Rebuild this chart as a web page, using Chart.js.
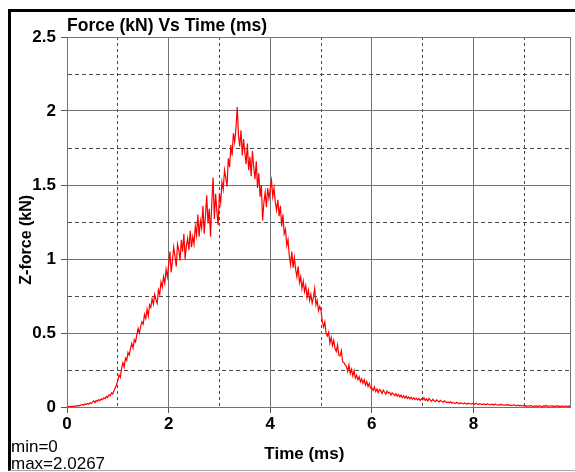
<!DOCTYPE html>
<html>
<head>
<meta charset="utf-8">
<title>Force (kN) Vs Time (ms)</title>
<script src="https://cdn.jsdelivr.net/npm/chart.js@4.4.1/dist/chart.umd.min.js"></script>
<style>
  html, body { margin: 0; padding: 0; background: #fff; }
  #wrap { position: relative; width: 575px; height: 472px; overflow: hidden; }
  #wrap canvas { position: absolute; left: 0; top: 0; }
  #frame {
    position: absolute; left: 8px; top: 9px; width: 567px; height: 462px;
    box-sizing: border-box; pointer-events: none;
    border-left: 3px solid #000; border-top: 3px solid #000; border-bottom: 1px solid #a8a8a8;
  }
</style>
</head>
<body>
<div id="wrap">
  <canvas id="forceChart" width="575" height="472"></canvas>
  <div id="frame"></div>
</div>
<script>
// sampling of the recorded signal (ms between samples) and where the time axis ends
const SAMPLE_MS = 0.025;
const TIME_MAX = 9.9;

// Z-force (kN), one value per sample
const forceRise = [
  0.000, 0.003, 0.001, 0.005, 0.002, 0.006, 0.004, 0.009, 0.006, 0.011, 0.008, 0.013, 0.017, 0.012, 0.020, 0.016, 0.024, 0.019, 0.028, 0.023,
  0.033, 0.041, 0.030, 0.045, 0.038, 0.050, 0.043, 0.055, 0.049, 0.062, 0.056, 0.071, 0.064, 0.082, 0.076, 0.095, 0.088, 0.112, 0.128, 0.150,
  0.180, 0.215, 0.200, 0.262, 0.300, 0.270, 0.330, 0.315, 0.368, 0.350, 0.395, 0.430, 0.398, 0.455, 0.440, 0.490, 0.530, 0.500, 0.545, 0.575,
  0.560, 0.625, 0.598, 0.660, 0.615, 0.690, 0.672, 0.730, 0.695, 0.760, 0.725, 0.700, 0.790, 0.760, 0.845, 0.810, 0.880, 0.835, 0.930, 0.880,
];
const forcePeak = [
  0.960, 1.050, 0.910, 0.990, 1.080, 1.020, 0.950, 1.100, 1.060, 0.990, 1.130, 1.050, 1.170, 1.000, 1.090, 1.140, 1.060, 1.190, 1.080, 1.150,
  1.100, 1.220, 1.160, 1.300, 1.150, 1.260, 1.210, 1.360, 1.170, 1.290, 1.430, 1.240, 1.340, 1.150, 1.380, 1.550, 1.270, 1.440, 1.320, 1.230,
  1.440, 1.380, 1.520, 1.470, 1.600, 1.550, 1.490, 1.680, 1.620, 1.770, 1.700, 1.850, 1.790, 1.880, 2.0267, 1.840, 1.760, 1.870, 1.700, 1.810,
  1.720, 1.640, 1.780, 1.600, 1.690, 1.560, 1.730, 1.620, 1.540, 1.660, 1.480, 1.580, 1.420, 1.500, 1.260, 1.380, 1.450, 1.350, 1.480, 1.410,
];
const forceFall = [
  1.470, 1.530, 1.420, 1.480, 1.380, 1.330, 1.400, 1.290, 1.360, 1.220, 1.300, 1.170, 1.200, 1.090, 1.130, 1.020, 0.960, 1.050, 0.940, 1.010,
  0.930, 0.880, 0.950, 0.840, 0.880, 0.800, 0.850, 0.780, 0.820, 0.740, 0.790, 0.720, 0.760, 0.700, 0.740, 0.800, 0.690, 0.720, 0.650, 0.680,
  0.650, 0.580, 0.540, 0.575, 0.495, 0.480, 0.505, 0.430, 0.470, 0.415, 0.450, 0.395, 0.375, 0.420, 0.350, 0.345, 0.380, 0.305, 0.300, 0.285,
  0.275, 0.240, 0.285, 0.225, 0.255, 0.210, 0.245, 0.195, 0.215, 0.185, 0.205, 0.170, 0.190, 0.160, 0.185, 0.148, 0.172, 0.138, 0.160, 0.128,
];
const forceTail = [
  0.128, 0.112, 0.135, 0.104, 0.122, 0.098, 0.118, 0.110, 0.092, 0.114, 0.100, 0.086, 0.108, 0.094, 0.099, 0.080, 0.095, 0.088, 0.076, 0.090,
  0.072, 0.085, 0.068, 0.080, 0.064, 0.075, 0.060, 0.073, 0.058, 0.068, 0.055, 0.066, 0.052, 0.063, 0.050, 0.060, 0.048, 0.058, 0.044, 0.055,
  0.048, 0.062, 0.044, 0.055, 0.040, 0.058, 0.046, 0.038, 0.052, 0.042, 0.036, 0.048, 0.040, 0.034, 0.045, 0.038, 0.032, 0.042, 0.035, 0.030,
  0.034, 0.028, 0.036, 0.025, 0.030, 0.027, 0.024, 0.032, 0.026, 0.022, 0.029, 0.024, 0.021, 0.027, 0.023, 0.020, 0.026, 0.022, 0.019, 0.024,
  0.022, 0.018, 0.025, 0.020, 0.017, 0.023, 0.019, 0.016, 0.021, 0.018, 0.015, 0.022, 0.017, 0.014, 0.019, 0.016, 0.013, 0.020, 0.015, 0.012,
  0.016, 0.013, 0.018, 0.012, 0.015, 0.011, 0.014, 0.017, 0.010, 0.013, 0.009, 0.012, 0.015, 0.010, 0.008, 0.012, 0.009, 0.011, 0.007, 0.010,
  0.006, 0.009, 0.005, 0.008, 0.004, 0.010, 0.006, 0.003, 0.008, 0.005, 0.007, 0.004, 0.009, 0.005, 0.003, 0.007, 0.005, 0.012, 0.004, 0.006,
  0.005, 0.008, 0.004, 0.007, 0.003, 0.006, 0.009, 0.004, 0.006, 0.003, 0.007, 0.005, 0.004, 0.008, 0.003, 0.006, 0.004,
];

// grid positions and the ones that carry a label
const timeTicks = [0, 1, 2, 3, 4, 5, 6, 7, 8, 9];
const timeLabels = ["0", "2", "4", "6", "8"];
const forceTicks = [0, 0.25, 0.5, 0.75, 1, 1.25, 1.5, 1.75, 2, 2.25, 2.5];
const forceLabels = ["0", "0.5", "1", "1.5", "2", "2.5"];

const zForce = [...forceRise, ...forcePeak, ...forceFall, ...forceTail];
const points = zForce.map((f, i) => ({ x: i * SAMPLE_MS, y: f }));
const forceMin = Math.min(...zForce);
const forceMax = Math.max(...zForce);

const FONT = "'Liberation Sans', Arial, sans-serif";
const MAJOR = "#737373";
const MINOR = "#4a4a4a";

// "major" = labelled tick, "minor" = dashed line, "edge" = closing border
function tickKind(tick, labels, ticks) {
  if (!tick) return "edge";
  if (labels.includes(String(tick.value))) return "major";
  return ticks.includes(tick.value) ? "minor" : "edge";
}
const xKind = (c) => tickKind(c.tick, timeLabels, timeTicks);
const yKind = (c) => tickKind(c.tick, forceLabels, forceTicks);

// min / max readout in the bottom left corner
const statsText = {
  id: "statsText",
  afterDraw(chart) {
    const ctx = chart.ctx;
    ctx.save();
    ctx.font = "17px " + FONT;
    ctx.fillStyle = "#000";
    ctx.textAlign = "left";
    ctx.textBaseline = "alphabetic";
    ctx.fillText("min=" + forceMin, 11, 452);
    ctx.fillText("max=" + forceMax, 11, 469);
    ctx.restore();
  },
};

new Chart(document.getElementById("forceChart"), {
  type: "line",
  data: {
    datasets: [
      {
        label: "Z-force",
        data: points,
        borderColor: "#ff0000",
        borderWidth: 1.2,
        pointRadius: 0,
        tension: 0,
        fill: false,
      },
    ],
  },
  options: {
    responsive: false,
    animation: false,
    events: [],
    layout: { padding: { top: 0, left: 0, right: 5, bottom: 0 } },
    scales: {
      x: {
        type: "linear",
        min: 0,
        max: TIME_MAX,
        afterBuildTicks: (scale) => {
          scale.ticks = [...timeTicks, TIME_MAX].map((v) => ({ value: v }));
        },
        afterFit: (scale) => {
          scale.height = 65;
        },
        ticks: {
          autoSkip: false,
          maxRotation: 0,
          padding: 1,
          color: "#000",
          font: { family: FONT, size: 17, weight: "bold" },
          callback: (v) => (timeLabels.includes(String(v)) ? String(v) : ""),
        },
        grid: {
          color: (c) => (xKind(c) === "minor" ? MINOR : MAJOR),
          lineWidth: 1,
          tickLength: 6,
          tickColor: (c) => (xKind(c) === "major" ? "#555" : "rgba(0,0,0,0)"),
        },
        border: {
          color: MAJOR,
          dash: (c) => (c.tick && xKind(c) === "minor" ? [3, 3] : []),
        },
        title: {
          display: true,
          text: "Time (ms)      ",
          color: "#000",
          font: { family: FONT, size: 17, weight: "bold" },
          padding: { top: 0, bottom: 7 },
        },
      },
      y: {
        type: "linear",
        min: 0,
        max: 2.5,
        afterBuildTicks: (scale) => {
          scale.ticks = forceTicks.map((v) => ({ value: v }));
        },
        afterFit: (scale) => {
          scale.width = 67;
        },
        ticks: {
          autoSkip: false,
          padding: 5,
          color: "#000",
          font: { family: FONT, size: 17, weight: "bold" },
          callback: (v) => (forceLabels.includes(String(v)) ? String(v) : ""),
        },
        grid: {
          color: (c) => (yKind(c) === "minor" ? MINOR : MAJOR),
          lineWidth: 1,
          tickLength: 6,
          tickColor: (c) => (yKind(c) === "major" ? "#555" : "rgba(0,0,0,0)"),
        },
        border: {
          color: MAJOR,
          dash: (c) => (c.tick && yKind(c) === "minor" ? [4, 3] : []),
        },
        title: {
          display: true,
          text: "Z-force (kN)        ",
          color: "#000",
          font: { family: FONT, size: 16, weight: "bold" },
          padding: { top: 17, bottom: 0 },
        },
      },
    },
    plugins: {
      legend: { display: false },
      tooltip: { enabled: false },
      title: {
        display: true,
        text: "Force (kN) Vs Time (ms)",
        align: "start",
        position: "top",
        fullSize: false,
        color: "#000",
        font: { family: FONT, size: 17.5, weight: "bold" },
        padding: { top: 16, bottom: 0 },
      },
    },
  },
  plugins: [statsText],
});
</script>
</body>
</html>
